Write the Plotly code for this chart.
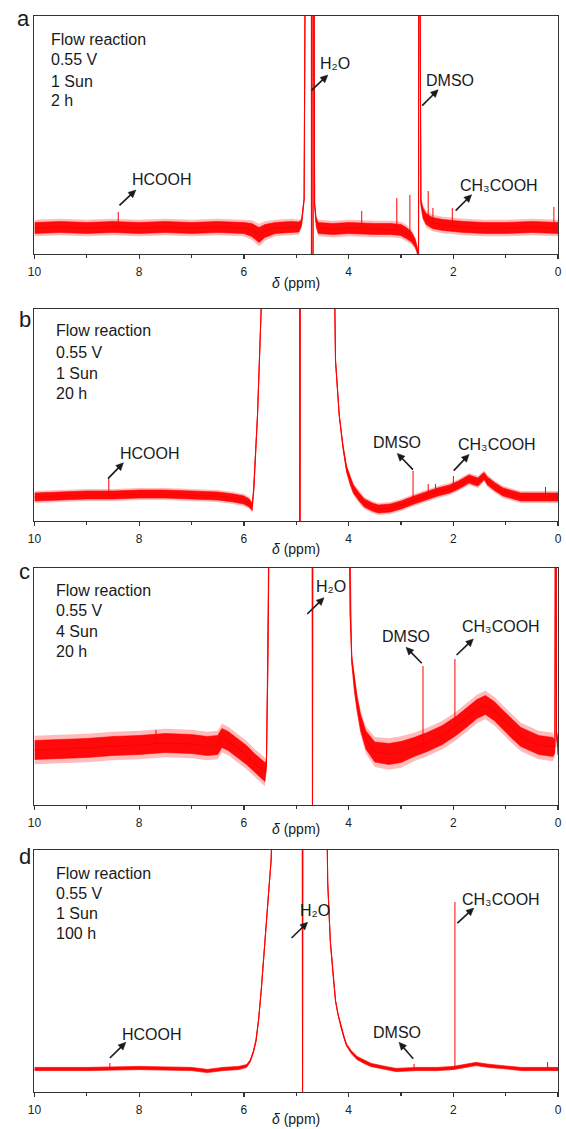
import math
import plotly.graph_objects as go

# ------------------------------------------------------------------ data
# chemical shift (ppm), signal level (arbitrary units), noise half-width
ppm_a = [10.0, 9.5, 9.0, 8.5, 8.0, 7.5, 7.0, 6.5, 6.0, 5.85, 5.71, 5.6, 5.4, 5.1, 4.95, 4.90, 4.85, 4.82,
         4.71, 4.71, 4.68, 4.68, 4.665, 4.65, 4.62, 4.58, 4.3, 4.0, 3.5, 3.2, 3.0, 2.90, 2.80, 2.73, 2.69,
         2.665, 2.66, 2.645, 2.62, 2.58, 2.52, 2.40, 2.2, 1.8, 1.4, 1.0, 0.5, 0.0]
sig_a = [26, 27, 26, 27, 26, 27, 26, 27, 26, 24, 19, 23, 26, 27, 27, 31, 55, 400,
         400, -5, -5, 400, 400, 50, 32, 26, 25, 26, 25, 25, 24, 21, 17, 11, 4,
         -5, 400, 400, 52, 41, 35, 31, 29, 27, 26, 26, 27, 26]
noise_a = [5.5, 5.5, 5.5, 5.5, 5.5, 5.5, 5.5, 5.5, 5.5, 6.5, 7.5, 6.5, 5.5, 5.5, 5, 3, 1, 0,
           0, 0, 0, 0, 0, 1, 4, 5.5, 5.5, 5.5, 5.5, 5.5, 5.5, 5.5, 5, 4, 3,
           0, 0, 0, 3, 5, 5.5, 5.5, 5.5, 5.5, 5.5, 5.5, 5.5, 5.5]
spike_ppm_a = [8.40, 3.75, 3.08, 2.83, 2.48, 2.39, 2.02, 0.08]
spike_base_a = [27, 25, 24, 18, 32, 31, 28, 26]
spike_top_a = [42, 43, 56, 59, 63, 46, 46, 47]

ppm_b = [10.0, 9.5, 9.0, 8.5, 8.0, 7.5, 7.0, 6.5, 6.2, 6.0, 5.90, 5.84, 5.81, 5.74, 5.67, 5.64,
         4.935, 4.93, 4.925, 4.31, 4.25, 4.18, 4.11, 4.04, 3.97, 3.91, 3.80, 3.70, 3.55, 3.43,
         3.2, 3.0, 2.75, 2.48, 2.30, 2.07, 1.90, 1.70, 1.60, 1.53, 1.45, 1.41, 1.35, 1.20, 1.05,
         0.85, 0.71, 0.4, 0.0]
sig_b = [24, 25, 26, 26, 27, 27, 26, 25, 23, 21, 18, 14, 32, 106, 212, 400,
         400, -5, 400, 400, 160, 106, 75, 52, 40, 32, 24, 18, 14, 12,
         13, 16, 21, 26, 29, 32, 36, 42, 40, 39, 43, 45, 40, 34, 29,
         26, 24, 24, 24]
noise_b = [4, 4, 4, 4, 4, 4, 4, 4, 4, 4, 4, 3.5, 1, 0.5, 0, 0,
           0, 0, 0, 0, 0.5, 1, 2, 3, 3.5, 4, 4, 4, 4, 4,
           4, 4, 4, 4, 4, 4, 4, 4, 4, 4, 4, 3.5, 4, 4, 4,
           4, 4, 4, 4]
spike_ppm_b = [8.58, 2.77, 2.48, 2.34, 2.00, 0.24]
spike_base_b = [26, 20, 26, 28, 33, 24]
spike_top_b = [42, 50, 37, 37, 45, 34]

ppm_c = [10.0, 9.5, 9.0, 8.5, 8.0, 7.5, 7.0, 6.7, 6.5, 6.42, 6.3, 6.1, 5.95, 5.8, 5.66, 5.60,
         5.57, 5.54, 5.50, 4.695, 4.69, 4.685, 4.01, 3.97, 3.94, 3.89, 3.84, 3.77, 3.67, 3.50,
         3.23, 3.0, 2.75, 2.50, 2.21, 1.95, 1.73, 1.55, 1.39, 1.22, 1.05, 0.88, 0.71, 0.37,
         0.10, 0.06, 0.05, 0.04, 0.03, 0.0]
sig_c = [55, 56, 57, 59, 60, 62, 61, 59, 60, 67, 64, 56, 50, 42, 36, 33,
         40, 150, 400, 400, -5, 400, 400, 190, 145, 120, 102, 82, 65, 53,
         51, 53, 58, 63, 70, 79, 88, 96, 100, 94, 85, 76, 68, 60,
         58, 58, 400, 400, 70, 58]
noise_c = [9.5, 9.5, 9.5, 9.5, 9.5, 9.5, 9.5, 9.5, 9.5, 9.5, 9.5, 9.5, 9.5, 9.5, 9.5, 9.5,
           4, 0.5, 0, 0, 0, 0, 0, 2, 4, 6, 7, 8, 9, 10,
           10.5, 10.5, 9.5, 9.5, 9.5, 9.5, 9.5, 9.5, 9.5, 9.5, 9.5, 9.5, 9.5, 9.5,
           9.5, 6, 0, 0, 3, 8]
spike_ppm_c = [7.68, 2.58, 1.97]
spike_base_c = [61, 56, 75]
spike_top_c = [75, 139, 146]

ppm_d = [10.0, 9.0, 8.0, 7.0, 6.7, 6.4, 6.1, 5.95, 5.88, 5.82, 5.77, 5.72, 5.67, 5.62, 5.57, 5.52,
         5.48, 5.44, 4.885, 4.88, 4.875, 4.44, 4.40, 4.35, 4.30, 4.25, 4.20, 4.14, 4.09, 4.04,
         3.95, 3.84, 3.70, 3.57, 3.3, 3.09, 2.7, 2.3, 2.0, 1.8, 1.57, 1.3, 1.05, 0.7, 0.3, 0.0]
sig_d = [23, 23, 24, 23, 21, 23, 24, 26, 31, 40, 51, 72, 101, 133, 168, 205,
         232, 300, 400, -5, 400, 400, 210, 151, 118, 91, 77, 64, 55, 47,
         40, 34, 30, 27, 24, 22, 23, 23, 24, 26, 28, 26, 25, 23, 23, 23]
noise_d = [1.5, 1.5, 1.5, 1.5, 1.5, 1.5, 1.5, 1.3, 1, 1, 1, 0.5, 0.5, 0.5, 0.5, 0,
           0, 0, 0, 0, 0, 0, 0, 0.5, 0.5, 0.5, 0.5, 1, 1, 1,
           1.3, 1.5, 1.5, 1.5, 1.5, 1.5, 1.5, 1.5, 1.5, 1.5, 1.5, 1.5, 1.5, 1.5, 1.5, 1.5]
spike_ppm_d = [8.56, 2.75, 1.97, 0.20]
spike_base_d = [23, 22, 24, 23]
spike_top_d = [29, 28, 190, 30]

tick_vals = [10, 8, 6, 4, 2, 0]
tick_text = ["10", "8", "6", "4", "2", "0"]
minor_vals = [9, 7, 5, 3, 1]

panel_letters = ["a", "b", "c", "d"]
conditions = [
    ["Flow reaction", "0.55 V", "1 Sun", "2 h"],
    ["Flow reaction", "0.55 V", "1 Sun", "20 h"],
    ["Flow reaction", "0.55 V", "4 Sun", "20 h"],
    ["Flow reaction", "0.55 V", "1 Sun", "100 h"],
]
axis_title = "<i>δ</i> (ppm)"
H2O = "H₂O"
ACE = "CH₃COOH"

# ------------------------------------------------------------------ layout helpers
W, H = 566, 1129
FONT = "Arial, 'Liberation Sans', 'DejaVu Sans', Helvetica, sans-serif"
RED = "#ff0000"
INK = "#1a1a1a"
X0, X1 = 28, 562
boxes = [(16, 254), (309, 521), (568, 805), (850, 1092)]  # (top, bottom) in px
FRINGE = 1.5  # outer, sparser part of the noise band (style)

spectra = [
    (ppm_a, sig_a, noise_a, spike_ppm_a, spike_base_a, spike_top_a),
    (ppm_b, sig_b, noise_b, spike_ppm_b, spike_base_b, spike_top_b),
    (ppm_c, sig_c, noise_c, spike_ppm_c, spike_base_c, spike_top_c),
    (ppm_d, sig_d, noise_d, spike_ppm_d, spike_base_d, spike_top_d),
]

fig = go.Figure()
layout = dict(
    width=W, height=H, margin=dict(l=0, r=0, t=0, b=0),
    paper_bgcolor="white", plot_bgcolor="white", showlegend=False,
    font=dict(family=FONT, color=INK),
)


def band(ppm, sig, noise, k):
    upper = [s + h * k for s, h in zip(sig, noise)]
    lower = [s - h * k for s, h in zip(sig, noise)]
    return list(ppm) + list(ppm)[::-1], upper + lower[::-1]


for i, (ppm, sig, noise, sx, sb, st) in enumerate(spectra):
    n = "" if i == 0 else str(i + 1)
    xa, ya = "x" + n, "y" + n
    top, bot = boxes[i]
    assert len(ppm) == len(sig) == len(noise), i
    bx, by = band(ppm, sig, noise, FRINGE)
    fig.add_trace(go.Scatter(
        x=bx, y=by, mode="lines", fill="toself",
        fillcolor="rgba(255,60,60,0.35)", line=dict(width=0),
        xaxis=xa, yaxis=ya, hoverinfo="skip"))
    bx, by = band(ppm, sig, noise, 1.0)
    fig.add_trace(go.Scatter(
        x=bx, y=by, mode="lines", fill="toself", fillcolor="rgba(255,0,0,0.95)",
        line=dict(color=RED, width=0.6), xaxis=xa, yaxis=ya, hoverinfo="skip"))
    fig.add_trace(go.Scatter(
        x=ppm, y=sig, mode="lines", line=dict(color=RED, width=1.1),
        xaxis=xa, yaxis=ya, hoverinfo="skip"))
    spx, spy = [], []
    for p, b, t in zip(sx, sb, st):
        spx += [p, p, None]
        spy += [b, t, None]
    fig.add_trace(go.Scatter(
        x=spx, y=spy, mode="lines", line=dict(color=RED, width=1.0),
        xaxis=xa, yaxis=ya, hoverinfo="skip"))

    layout["xaxis" + n] = dict(
        domain=[X0 / W, X1 / W], anchor=ya, range=[10, 0],
        tickmode="array", tickvals=tick_vals, ticktext=tick_text,
        ticks="outside", ticklen=4, tickwidth=1.2, tickcolor="#333",
        ticklabelstandoff=2, ticklabeloverflow="allow",
        minor=dict(tickvals=minor_vals, ticks="outside", ticklen=3,
                   tickwidth=1.1, tickcolor="#333"),
        tickfont=dict(family=FONT, size=12, color="#222"),
        showline=True, linecolor="#333", linewidth=1.3, mirror=True,
        showgrid=False, zeroline=False, fixedrange=True)
    layout["yaxis" + n] = dict(
        domain=[1 - bot / H, 1 - top / H], anchor=xa, range=[0, bot - top],
        showticklabels=False, ticks="", showline=True, linecolor="#333",
        linewidth=1.3, mirror=True, showgrid=False, zeroline=False,
        fixedrange=True)

annotations = []
shapes = []


def P(px, py):
    return px / W, 1 - py / H


def txt(px, py, text, size, xanchor="center", yanchor="middle"):
    x, y = P(px, py)
    annotations.append(dict(
        x=x, y=y, xref="paper", yref="paper", text=text,
        showarrow=False, xanchor=xanchor, yanchor=yanchor,
        font=dict(family=FONT, size=size, color=INK)))


def arrow(tail, head, head_len=7.5, head_half=3.6, width=1.6):
    dx, dy = head[0] - tail[0], head[1] - tail[1]
    L = math.hypot(dx, dy)
    ux, uy = dx / L, dy / L
    bx, by = head[0] - ux * head_len, head[1] - uy * head_len
    nx, ny = -uy, ux
    x0, y0 = P(*tail)
    x1, y1 = P(bx + ux * 1.0, by + uy * 1.0)
    shapes.append(dict(type="line", xref="paper", yref="paper",
                       x0=x0, y0=y0, x1=x1, y1=y1,
                       line=dict(color=INK, width=width)))
    pts = [head, (bx + nx * head_half, by + ny * head_half),
           (bx - nx * head_half, by - ny * head_half)]
    pp = [P(*q) for q in pts]
    path = "M {:.5f},{:.5f} L {:.5f},{:.5f} L {:.5f},{:.5f} Z".format(
        pp[0][0], pp[0][1], pp[1][0], pp[1][1], pp[2][0], pp[2][1])
    shapes.append(dict(type="path", xref="paper", yref="paper", path=path,
                       fillcolor=INK, line=dict(color=INK, width=0.5)))


# panel letters
letter_pos = [(17, 19), (18, 319), (18, 571), (18, 856)]
for L, (px, py) in zip(panel_letters, letter_pos):
    txt(px, py, L, 22)

# condition blocks
cond_pos = [(43, [40, 60, 81, 100]), (47.5, [331, 352, 373, 393]),
            (47.5, [590, 611, 631, 651]), (48, [873, 893, 913, 933])]
for lines, (px, ys) in zip(conditions, cond_pos):
    for t, py in zip(lines, ys):
        txt(px, py, t, 16, xanchor="left")

# axis titles
for py in [283, 549, 829, 1119]:
    txt((X0 + X1) / 2, py, axis_title, 14)

# compound labels and arrows
labels = [
    (158, 180, "HCOOH"), (334.7, 63, H2O), (452, 80, "DMSO"), (501.5, 185, ACE),
    (146, 453, "HCOOH"), (398, 442, "DMSO"), (500, 445, ACE),
    (330, 586, H2O), (407, 636, "DMSO"), (504, 626, ACE),
    (314, 910, H2O), (148, 1034, "HCOOH"), (398, 1032, "DMSO"), (504, 899, ACE),
]
for px, py, t in labels:
    txt(px, py, t, 16)

arrows = [
    ((114.7, 205.3), (131.4, 190)), ((310.5, 90.4), (327.2, 75)),
    ((423.4, 105.6), (439.7, 89.7)), ((457.5, 210.6), (473.8, 194.7)),
    ((103, 478.6), (118.7, 462.8)), ((414, 469.6), (398, 453.4)),
    ((455.6, 470.6), (471.2, 454.4)),
    ((306.2, 614), (323.3, 597.7)), ((423, 663.3), (407, 647.3)),
    ((458.5, 655), (475.6, 639)),
    ((290.2, 938), (306.6, 922.2)), ((104.9, 1058), (121.2, 1042.3)),
    ((414.3, 1058.8), (399.8, 1042.3)), ((459.3, 923.2), (476, 908.1)),
]
for tail, head in arrows:
    arrow(tail, head)

layout["annotations"] = annotations
layout["shapes"] = shapes
fig.update_layout(**layout)
fig.write_html(
    "out.html",
    config={"displayModeBar": False, "staticPlot": True},
    post_script="document.body.style.margin='0';document.body.style.padding='0';",
)
